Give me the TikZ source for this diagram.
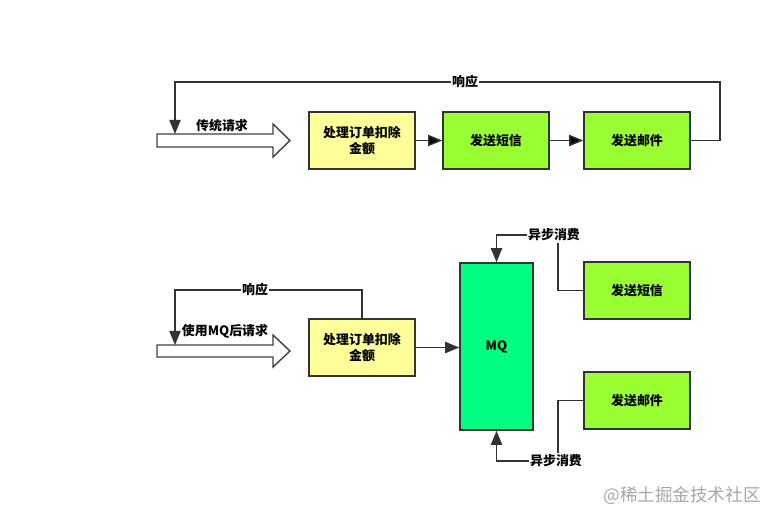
\documentclass[tikz,border=0pt]{standalone}
\usepackage{fontspec}
\setmainfont{Noto Sans CJK SC}
\usetikzlibrary{arrows.meta}
\definecolor{yellowbox}{HTML}{FFFF99}
\definecolor{greenbox}{HTML}{99FF33}
\definecolor{mqgreen}{HTML}{00FF80}
\begin{document}
\begin{tikzpicture}[x=0.025cm, y=-0.025cm,
                    box/.style={draw=black!80, line width=1.1pt, align=center, inner sep=1pt,
                    minimum width=2.65cm, minimum height=1.425cm,
                    font=\fontsize{9.2}{12}\selectfont\bfseries},
                    deduct box/.style={box, fill=yellowbox},
                    send box/.style={box, fill=greenbox},
                    mq box/.style={box, fill=mqgreen, minimum width=1.825cm, minimum height=4.175cm},
                    flow/.style={draw=black!80, line width=1pt, -{Triangle[length=10pt,width=8pt]}},
                    tag/.style={fill=white, inner sep=1pt, font=\fontsize{9.2}{11}\selectfont\bfseries},
                    big arrow/.style={draw=black!75, line width=1pt, fill=white}
                   ]
   \useasboundingbox (0,0) rectangle (782,522);
   % traditional call chain
   \draw[big arrow] (157,134) -- (273,134) -- (273,124) -- (290,140.5)
                    -- (273,157) -- (273,147) -- (157,147) -- cycle;
   \coordinate (in1) at (175,134);
   \node[tag, fill=none] (req1) at (222,126) {传统请求};
   \node[deduct box] (deduct1) at (362,140.5) {处理订单扣除\\金额};
   \node[send box] (sms1) at (496,140.5) {发送短信};
   \node[send box] (mail1) at (637,140.5) {发送邮件};
   \path[flow]
     (deduct1) edge (sms1)
     (sms1) edge (mail1);
   \draw[flow] (mail1.east) -- (720,140.5) |- (175,82) -- (in1);
   \node[tag] (resp1) at (465,82) {响应};

   % call chain with MQ
   \draw[big arrow] (157,345) -- (273,345) -- (273,335) -- (290,351)
                    -- (273,367) -- (273,357) -- (157,357) -- cycle;
   \coordinate (in2) at (175,345);
   \node[tag, fill=none] (req2) at (225,331) {使用MQ后请求};
   \node[deduct box] (deduct2) at (362,347.5) {处理订单扣除\\金额};
   \node[mq box] (mq) at (496.5,346.5) {MQ};
   \node[send box] (sms2) at (637,290.5) {发送短信};
   \node[send box] (mail2) at (637,400.5) {发送邮件};
   \draw[flow] (deduct2) -- (mq.west |- deduct2);
   \draw[flow] (deduct2.north) |- (175,290) -- (in2);
   \node[tag] (resp2) at (255,290) {响应};
   \draw[flow] (sms2.west) -| (558,235) -| (mq.north);
   \node[tag] (async1) at (554,235) {异步消费};
   \draw[flow] (mail2.west) -| (558,461) -| (mq.south);
   \node[tag] (async2) at (556,461) {异步消费};

   \node[text=black!35, font=\fontsize{12.5}{14}\selectfont] (mark) at (682,496) {@稀土掘金技术社区};
\end{tikzpicture}
\end{document}
